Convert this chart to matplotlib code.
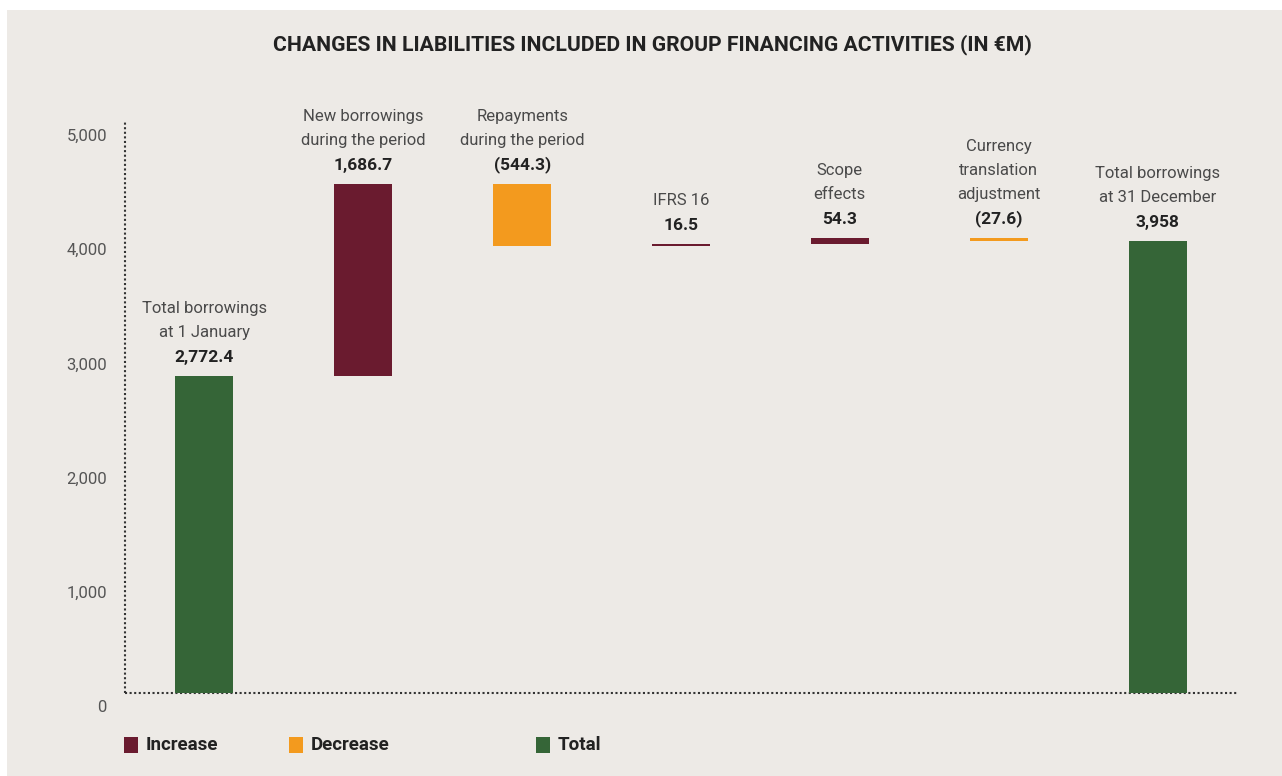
import matplotlib
matplotlib.use("Agg")
import matplotlib.pyplot as plt
import matplotlib.transforms as mtransforms
from matplotlib.patches import Rectangle

# ---- data ----
categories = ["Total borrowings\nat 1 January", "New borrowings\nduring the period",
              "Repayments\nduring the period", "IFRS 16", "Scope\neffects",
              "Currency\ntranslation\nadjustment", "Total borrowings\nat 31 December"]
values = [2772.4, 1686.7, -544.3, 16.5, 54.3, -27.6, 3958.0]
kinds = ["total", "inc", "dec", "inc", "inc", "dec", "total"]
value_labels = ["2,772.4", "1,686.7", "(544.3)", "16.5", "54.3", "(27.6)", "3,958"]
yticks = [0, 1000, 2000, 3000, 4000, 5000]
ytick_labels = ["0", "1,000", "2,000", "3,000", "4,000", "5,000"]
legend_labels = ["Increase", "Decrease", "Total"]
title = "CHANGES IN LIABILITIES INCLUDED IN GROUP FINANCING ACTIVITIES (IN €M)"

colors = {"inc": "#6A1B2F", "dec": "#F39A1E", "total": "#356537"}
BG = "#EDEAE6"
W, H = 1282, 776

plt.rcParams['font.family'] = ['Roboto', 'DejaVu Sans']

fig = plt.figure(figsize=(W / 100, H / 100), dpi=100, facecolor="white")
fig.patches.append(Rectangle((7 / W, 0), 1 - 7 / W, 1 - 10 / H, transform=fig.transFigure,
                             facecolor=BG, edgecolor="none", zorder=-10))

ax = fig.add_axes([125 / W, 83 / H, (1237 - 125) / W, (693 - 122) / H])
ax.set_facecolor("none")

# waterfall computation
bottoms, heights, tops = [], [], []
running = 0.0
for v, k in zip(values, kinds):
    if k == "total":
        b, h = 0.0, v
        running = v
    elif v >= 0:
        b, h = running, v
        running += v
    else:
        b, h = running + v, -v
        running += v
    bottoms.append(b)
    heights.append(h)
    tops.append(b + h)

xs = list(range(len(values)))
ax.bar(xs, heights, bottom=bottoms, width=0.365,
       color=[colors[k] for k in kinds], linewidth=0, zorder=3)

for x, top, cat, lab in zip(xs, tops, categories, value_labels):
    ax.annotate(lab, (x, top), xytext=(0, 11), textcoords="offset pixels",
                ha="center", va="bottom", fontsize=12.5, fontweight="bold", color="#222222")
    ax.annotate(cat, (x, top), xytext=(0, 36), textcoords="offset pixels",
                ha="center", va="bottom", fontsize=12, color="#4a4a4a",
                linespacing=1.75)

ax.set_xlim(-0.5, 6.5)
ax.set_ylim(0, 4980)
ax.set_xticks([])
ax.set_yticks(yticks)
ax.set_yticklabels(ytick_labels)
ax.tick_params(axis="y", length=0, pad=13, labelsize=12, labelcolor="#555555")
offset = mtransforms.ScaledTranslation(0, -13 / 100, fig.dpi_scale_trans)
for lbl in ax.get_yticklabels():
    lbl.set_transform(lbl.get_transform() + offset)

for s in ["top", "right"]:
    ax.spines[s].set_visible(False)
for s in ["left", "bottom"]:
    ax.spines[s].set_linestyle((0, (1, 1.2)))
    ax.spines[s].set_linewidth(1.5)
    ax.spines[s].set_color("#333333")
    ax.spines[s].set_capstyle("butt")

fig.text(652 / W, 1 - 45 / H, title, ha="center", va="center",
         fontsize=15.2, fontweight="bold", color="#222222")

# legend
leg_x = [124, 289, 536]
leg_kinds = ["inc", "dec", "total"]
for lx, k, lab in zip(leg_x, leg_kinds, legend_labels):
    fig.patches.append(Rectangle((lx / W, 1 - 753 / H), 14 / W, 16 / H,
                                 transform=fig.transFigure, facecolor=colors[k],
                                 edgecolor="none"))
    fig.text((lx + 22) / W, 1 - 745 / H, lab, ha="left", va="center",
             fontsize=13.5, fontweight="bold", color="#222222")

fig.savefig("out.png", dpi=100, facecolor=fig.get_facecolor())
